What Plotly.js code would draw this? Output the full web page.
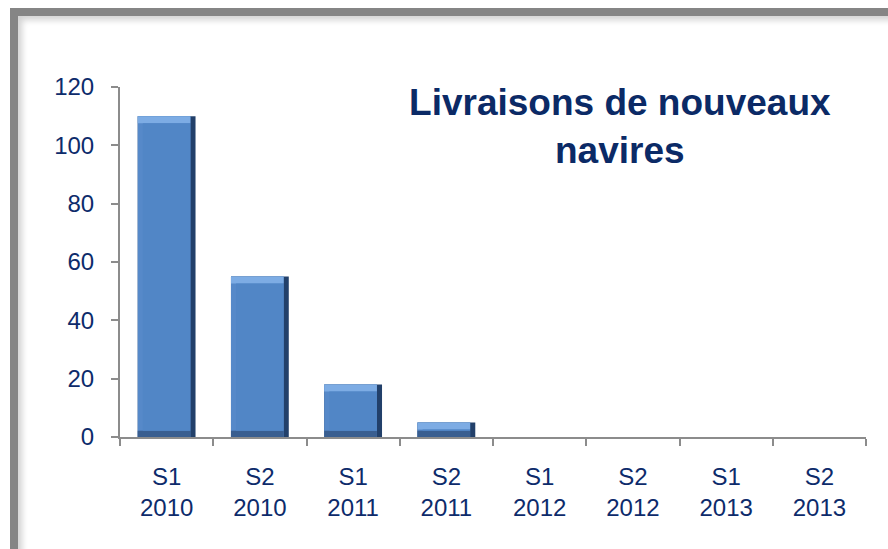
<!DOCTYPE html>
<html>
<head>
<meta charset="utf-8">
<script src="https://cdn.plot.ly/plotly-3.0.1.min.js"></script>
<style>
  html, body { margin: 0; padding: 0; background: #ffffff; }
  #wrap { position: relative; width: 888px; height: 549px; overflow: hidden; }
  #chart { position: absolute; left: 0; top: 0; width: 888px; height: 549px; }
  #frame {
    position: absolute; left: 10px; top: 8px; width: 900px; height: 539px;
    border-left: 8px solid #858585; border-top: 8px solid #858585;
    border-bottom: 2px solid #9a9a9a;
    box-shadow: inset 4px 4px 6px rgba(0,0,0,0.18);
    pointer-events: none; z-index: 5;
  }
</style>
</head>
<body>
<div id="wrap">
  <div id="chart"></div>
  <div id="frame"></div>
</div>
<script>
const categories = ["S1<br>2010", "S2<br>2010", "S1<br>2011", "S2<br>2011", "S1<br>2012", "S2<br>2012", "S1<br>2013", "S2<br>2013"];
const deliveries = [110, 55, 18, 5, 0, 0, 0, 0];
const yTicks = [0, 20, 40, 60, 80, 100, 120];
const titleText = "Livraisons de nouveaux<br>navires";

const textColor = "#0d2b6b";
const fontFamily = "'Liberation Sans', Arial, sans-serif";

// bevel styling (derived from the data values, drawn by Plotly bars)
const W = 0.62;          // bar width in category units
const bevX = 0.055;      // side bevel width (category units)
const bevY = 2.4;        // top/bottom bevel height (data units)
const present = deliveries.map(v => v > 0 ? v : null);

const base = { type: "bar", x: categories, hoverinfo: "skip" };
const traces = [
  // dark right edge
  Object.assign({}, base, { y: present, width: W, marker: { color: "#22406a" } }),
  // left edge (slightly lighter than face)
  Object.assign({}, base, { y: present, offset: -W / 2, width: W - bevX, marker: { color: "#5689c9" } }),
  // bottom dark band
  Object.assign({}, base, {
    y: present.map(v => v === null ? null : Math.min(bevY * 0.9, v)),
    offset: -W / 2, width: W - bevX, marker: { color: "#395e90" }
  }),
  // top light band
  Object.assign({}, base, {
    y: present.map(v => v === null ? null : Math.min(bevY, v)),
    base: present.map(v => v === null ? null : Math.max(0, v - bevY)),
    offset: -W / 2, width: W - bevX, marker: { color: "#7dace4" }
  }),
  // face
  Object.assign({}, base, {
    y: present.map(v => v === null ? null : Math.max(0, v - 1.9 * bevY)),
    base: present.map(v => v === null ? null : bevY * 0.9),
    offset: -W / 2 + bevX, width: W - 2 * bevX, marker: { color: "#5186c6" }
  })
];

const layout = {
  width: 888, height: 549,
  margin: { l: 120, r: 22, t: 87, b: 112 },
  paper_bgcolor: "#ffffff",
  plot_bgcolor: "#ffffff",
  showlegend: false,
  barmode: "overlay",
  font: { family: fontFamily, color: textColor, size: 24 },
  title: {
    text: titleText,
    font: { family: fontFamily, size: 37, color: "#0b2a66", weight: "bold" },
    xref: "container", x: 0.698, xanchor: "center",
    yref: "container", y: 0.79, yanchor: "middle"
  },
  xaxis: {
    type: "category",
    showgrid: false, zeroline: false,
    showline: true, linecolor: "#8c8c8c", linewidth: 2,
    ticks: "outside", tickson: "boundaries", ticklen: 7, tickcolor: "#8c8c8c", tickwidth: 2,
    ticklabelstandoff: 17,
    tickfont: { size: 24, color: textColor, family: fontFamily }
  },
  yaxis: {
    range: [0, 120],
    tickvals: yTicks,
    showgrid: false, zeroline: false,
    showline: true, linecolor: "#8c8c8c", linewidth: 2,
    ticks: "outside", ticklen: 7, tickcolor: "#8c8c8c", tickwidth: 2,
    ticklabelstandoff: 12,
    tickfont: { size: 24, color: textColor, family: fontFamily }
  }
};

Plotly.newPlot("chart", traces, layout, { displayModeBar: false, staticPlot: true });
</script>
</body>
</html>
